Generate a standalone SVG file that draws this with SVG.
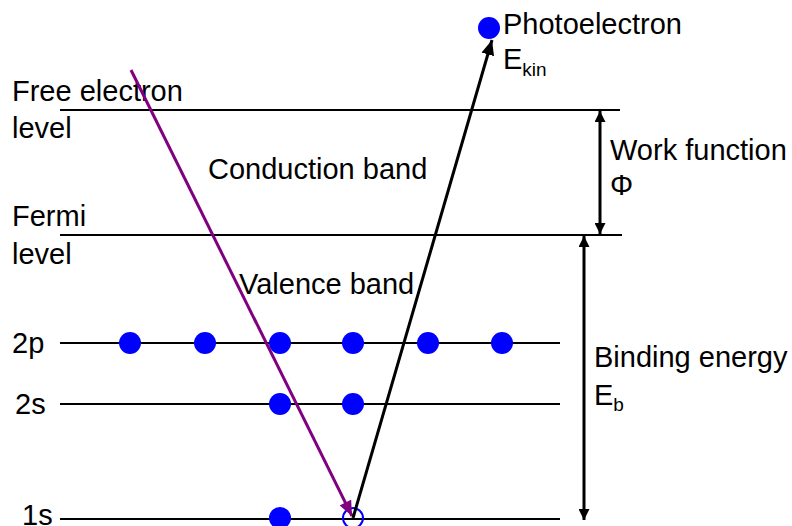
<svg xmlns="http://www.w3.org/2000/svg" width="792" height="526" viewBox="0 0 792 526">
<style>
text{font-family:"Liberation Sans",Arial,sans-serif;font-size:29px;fill:#000}
.sub{font-size:19px}
.lvl{stroke:#000;stroke-width:2;fill:none}
.dot{fill:#0000ff}
</style>
<defs>
<marker id="ah" markerWidth="11" markerHeight="11" viewBox="0 0 11 11" refX="11" refY="5.5" orient="auto-start-reverse" markerUnits="userSpaceOnUse"><path d="M0,0 L11,5.5 L0,11 z" fill="#000"/></marker>
<marker id="ahp" markerWidth="15" markerHeight="13" viewBox="0 0 15 13" refX="15" refY="6.5" orient="auto" markerUnits="userSpaceOnUse"><path d="M0,0 L15,6.5 L0,13 z" fill="#800080"/></marker>
<marker id="ahb" markerWidth="15" markerHeight="13" viewBox="0 0 15 13" refX="15" refY="6.5" orient="auto" markerUnits="userSpaceOnUse"><path d="M0,0 L15,6.5 L0,13 z" fill="#000"/></marker>
</defs>
<g id="levels">
<line class="lvl" x1="60" y1="110" x2="620" y2="110"/>
<line class="lvl" x1="60" y1="235" x2="622" y2="235"/>
<line class="lvl" x1="60" y1="343" x2="560" y2="343"/>
<line class="lvl" x1="60" y1="404" x2="560" y2="404"/>
<line class="lvl" x1="60" y1="519" x2="560" y2="519"/>
</g>
<g id="labels">
<text x="12" y="101">Free electron</text>
<text x="12" y="138">level</text>
<text x="12" y="226">Fermi</text>
<text x="12" y="264">level</text>
<text x="208" y="179">Conduction band</text>
<text x="239" y="294">Valence band</text>
<text x="12" y="353">2p</text>
<text x="15" y="414">2s</text>
<text x="22" y="525">1s</text>
</g>
<g id="electrons">
<circle class="dot" cx="130" cy="343" r="11"/>
<circle class="dot" cx="205" cy="343" r="11"/>
<circle class="dot" cx="280" cy="343" r="11"/>
<circle class="dot" cx="353" cy="343" r="11"/>
<circle class="dot" cx="428" cy="343" r="11"/>
<circle class="dot" cx="502" cy="343" r="11"/>
<circle class="dot" cx="280" cy="404" r="11"/>
<circle class="dot" cx="353" cy="404" r="11"/>
<circle class="dot" cx="280" cy="518" r="11"/>
<circle cx="353" cy="518" r="10" fill="none" stroke="#0000ff" stroke-width="2"/>
</g>
<g id="photoelectron">
<circle class="dot" cx="489" cy="28" r="11"/>
<text x="503" y="34">Photoelectron</text>
<text x="503" y="69">E<tspan class="sub" dy="7">kin</tspan></text>
</g>
<g id="work-function">
<text x="610" y="160">Work function</text>
<text x="610" y="195">Φ</text>
</g>
<g id="binding-energy">
<text x="594" y="367">Binding energy</text>
<text x="594" y="405">E<tspan class="sub" dy="6">b</tspan></text>
</g>
<g id="connectors">
<line x1="131" y1="70" x2="352" y2="516" stroke="#800080" stroke-width="3" marker-end="url(#ahp)"/>
<line x1="353" y1="518" x2="492" y2="40" stroke="#000" stroke-width="3" marker-end="url(#ahb)"/>
<line x1="600" y1="111" x2="600" y2="234" stroke="#000" stroke-width="3" marker-start="url(#ah)" marker-end="url(#ah)"/>
<line x1="584" y1="236" x2="584" y2="520" stroke="#000" stroke-width="3" marker-start="url(#ah)" marker-end="url(#ah)"/>
</g>
</svg>
